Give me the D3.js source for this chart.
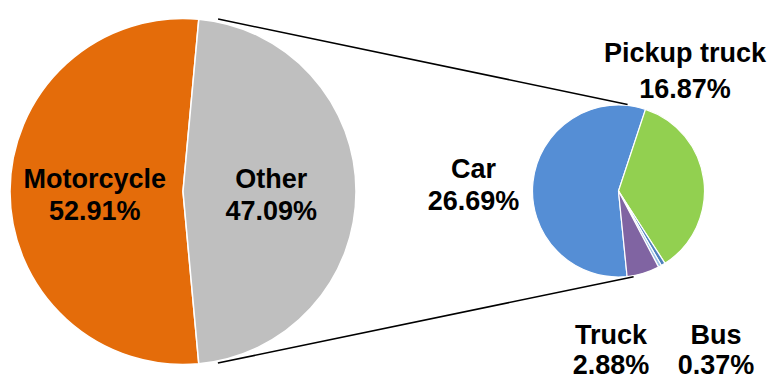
<!DOCTYPE html>
<html>
<head>
<meta charset="utf-8">
<script src="https://cdn.jsdelivr.net/npm/d3@7"></script>
<style>
  html, body { margin: 0; padding: 0; background: #ffffff; }
  svg { display: block; }
  text { font-family: "Liberation Sans", Arial, sans-serif; font-weight: bold; fill: #000; }
</style>
</head>
<body>
<svg id="chart" width="771" height="381"></svg>
<script>
// ---- data ----
const mainCategories = ["Motorcycle", "Other"];
const mainValues = [52.91, 47.09];
const mainColors = ["#E46C0A", "#BFBFBF"];

const subCategories = ["Car", "Pickup truck", "Bus", "Other types", "Truck"];
const subValues = [26.69, 16.87, 0.37, 0.28, 2.88];
const subColors = ["#558ED5", "#92D050", "#4F81BD", "#9DC3E6", "#8064A2"];
const subLabelled = ["Car", "Pickup truck", "Truck", "Bus"];

// ---- layout ----
const W = 771, H = 381;
const deg = Math.PI / 180;
const big = { cx: 183, cy: 191.5, r: 173 };
const small = { cx: 618.5, cy: 191, r: 86 };
const fontSize = 27, lineGap = 32;
const subLabelPos = {
  "Car": [473.5, 178, 32],
  "Pickup truck": [685, 62, 36],
  "Truck": [611, 344, 30],
  "Bus": [716, 344, 30]
};

const svg = d3.select("#chart");
const fmt = v => d3.format(".2f")(v) + "%";

// ---- main pie ----
const mainStart = (90 + (mainValues[1] / 100) * 180) * deg; // Other centred at 3 o'clock
const mainPie = d3.pie().sort(null).startAngle(mainStart).endAngle(mainStart + 2 * Math.PI);
const mainArcs = mainPie(mainValues);
const bigArc = d3.arc().innerRadius(0).outerRadius(big.r);
const gBig = svg.append("g").attr("transform", `translate(${big.cx},${big.cy})`);
gBig.selectAll("path").data(mainArcs).join("path")
  .attr("d", bigArc)
  .attr("fill", (d, i) => mainColors[i])
  .attr("stroke", "#ffffff").attr("stroke-width", 1.5);

const labelArc = d3.arc().innerRadius(big.r * 0.51).outerRadius(big.r * 0.51);
mainArcs.forEach((d, i) => {
  const [x, y] = labelArc.centroid(d);
  const t = gBig.append("text").attr("text-anchor", "middle").attr("font-size", fontSize);
  t.append("tspan").attr("x", x).attr("y", y - 4).text(mainCategories[i]);
  t.append("tspan").attr("x", x).attr("y", y - 4 + lineGap).text(fmt(mainValues[i]));
});

// ---- secondary pie ----
const subTotal = d3.sum(subValues);
const pickupStart = 18.3 * deg;
const carSpan = subValues[0] / subTotal * 2 * Math.PI;
const subStart = pickupStart - carSpan;
const subPie = d3.pie().sort(null).startAngle(subStart).endAngle(subStart + 2 * Math.PI);
const subArcs = subPie(subValues);
const smallArc = d3.arc().innerRadius(0).outerRadius(small.r);
const gSmall = svg.append("g").attr("transform", `translate(${small.cx},${small.cy})`);
gSmall.selectAll("path").data(subArcs).join("path")
  .attr("d", smallArc)
  .attr("fill", (d, i) => subColors[i])
  .attr("stroke", "#ffffff").attr("stroke-width", 1.2);

// ---- connector lines ----
const pt = (c, r, a) => [c.cx + r * Math.sin(a), c.cy - r * Math.cos(a)];
const lines = [
  [pt(big, big.r + 3, 11.5 * deg), pt(small, small.r + 1, 6 * deg)],
  [pt(big, big.r + 2, 168.5 * deg), pt(small, small.r + 1, 170 * deg)]
];
svg.selectAll("line.conn").data(lines).join("line")
  .attr("class", "conn")
  .attr("x1", d => d[0][0]).attr("y1", d => d[0][1])
  .attr("x2", d => d[1][0]).attr("y2", d => d[1][1])
  .attr("stroke", "#000").attr("stroke-width", 1.6);

// ---- secondary labels ----
subCategories.forEach((c, i) => {
  if (!subLabelled.includes(c)) return;
  const [x, y, gap] = subLabelPos[c];
  const t = svg.append("text").attr("text-anchor", "middle").attr("font-size", fontSize);
  t.append("tspan").attr("x", x).attr("y", y).text(c);
  t.append("tspan").attr("x", x).attr("y", y + gap).text(fmt(subValues[i]));
});
</script>
</body>
</html>
